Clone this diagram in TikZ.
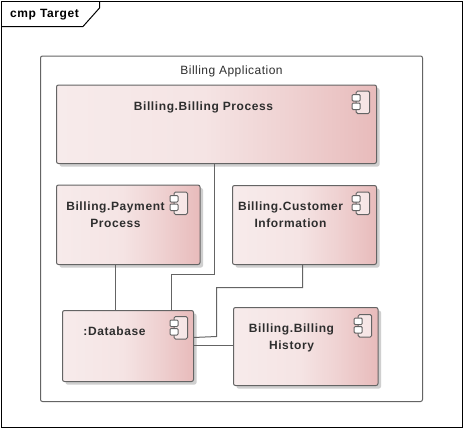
\documentclass[tikz,border=0pt]{standalone}
\usepackage{fontspec}
\setmainfont{Liberation Sans}
\usetikzlibrary{shadows}
\definecolor{inkc}{HTML}{2E2E2E}
\definecolor{linec}{HTML}{646464}
\definecolor{shadowc}{HTML}{CFCFCF}
\definecolor{gradA}{HTML}{F7EBEB}
\definecolor{gradB}{HTML}{F5E4E4}
\definecolor{gradC}{HTML}{EFD2D2}
\definecolor{gradD}{HTML}{E8BBBB}
\pgfdeclarehorizontalshading{compshade}{100bp}{
  color(0bp)=(gradA); color(25bp)=(gradA); color(48bp)=(gradB); color(61bp)=(gradC); color(75bp)=(gradD); color(100bp)=(gradD)}
\tikzset{
  compbox/.style={draw=linec,line width=1pt,rounded corners=2pt,anchor=north west,inner sep=0pt,outer sep=0pt,
    shading=compshade,shading angle=0,
    drop shadow={shadow xshift=3pt,shadow yshift=-3pt,fill=shadowc,opacity=1}},
  clabel/.style={font=\fontsize{12}{17}\selectfont\bfseries\addfontfeature{LetterSpace=5},text=inkc,align=center,inner sep=0pt,anchor=center},
  conn/.style={draw=linec,line width=1pt},
  iconbody/.style={draw=linec,line width=1pt,fill=white,fill opacity=0.6,draw opacity=1,rounded corners=1.5pt},
  iconpart/.style={draw=linec,line width=1pt,rounded corners=1pt}
}
\newcommand{\compicon}[2]{%
  \draw[iconbody] (#1-13.5,#2) rectangle (#1,#2+22.5);
  \draw[iconpart,fill=white] (#1-17.5,#2+3.5) rectangle (#1-9.5,#2+10);
  \draw[iconpart,fill=white] (#1-17.5,#2+12) rectangle (#1-9.5,#2+18.5);
}
\begin{document}
\begin{tikzpicture}[x=1pt,y=-1pt]
\useasboundingbox (0,0) rectangle (463,429);
\fill[white] (0,0) rectangle (463,429);
% frame
\draw[black,line width=1pt] (1.5,1.5) rectangle (462,427);
\draw[black,line width=1pt] (99.5,1.5) -- (99.5,8) -- (83,26.5) -- (1.5,26.5);
\node[font=\fontsize{12}{14}\selectfont\bfseries\addfontfeature{LetterSpace=5},text=black,inner sep=0pt,anchor=center] (ftitle) at (44.5,14.5) {cmp Target};
% container
\node[draw=linec,line width=1pt,rounded corners=2pt,anchor=north west,inner sep=0pt,outer sep=0pt,minimum width=382,minimum height=345.5] (app) at (40.5,56) {};
\node[font=\fontsize{12}{14}\selectfont\addfontfeature{LetterSpace=4},text=inkc,inner sep=0pt,anchor=center] (apptitle) at (231.5,71) {Billing Application};
% boxes
\node[compbox,minimum width=320,minimum height=78.5] (bp) at (56.5,85) {};
\node[compbox,minimum width=143.5,minimum height=79.5] (pay) at (56.5,185) {};
\node[compbox,minimum width=144,minimum height=79] (cust) at (232.5,185.5) {};
\node[compbox,minimum width=131,minimum height=71] (db) at (62.5,310.5) {};
\node[compbox,minimum width=144.5,minimum height=78] (hist) at (233.5,307.5) {};
% labels
\node[clabel] (bpl) at (203.5,107) {Billing.Billing Process};
\node[clabel] (payl) at (115.5,215) {Billing.Payment\\Process};
\node[clabel] (custl) at (290.5,215) {Billing.Customer\\Information};
\node[clabel] (dbl) at (114.5,331) {:Database};
\node[clabel] (histl) at (291.5,337.5) {Billing.Billing\\History};
% icons
\compicon{369.7}{91}
\compicon{369.7}{192}
\compicon{187.5}{192}
\compicon{187.5}{316.5}
\compicon{371.7}{314.5}
% connectors
\coordinate (a1) at (214.5,274.5);
\coordinate (a2) at (171.5,274.5);
\coordinate (b1) at (115.5,287);
\coordinate (c1) at (302.5,287.5);
\coordinate (c2) at (216.5,287.5);
\coordinate (c3) at (216.5,336.5);
\coordinate (c4) at (193.5,337.5);
\coordinate (d1) at (193.5,345.5);
\draw[conn] (a1 |- bp.south) -- (a1) -- (a2) -- (a2 |- db.north);
\draw[conn] (b1 |- pay.south) -- (b1 |- db.north);
\draw[conn] (c1 |- cust.south) -- (c1) -- (c2) -- (c3) -- (c4);
\draw[conn] (d1) -- (d1 -| hist.west);
\end{tikzpicture}
\end{document}
